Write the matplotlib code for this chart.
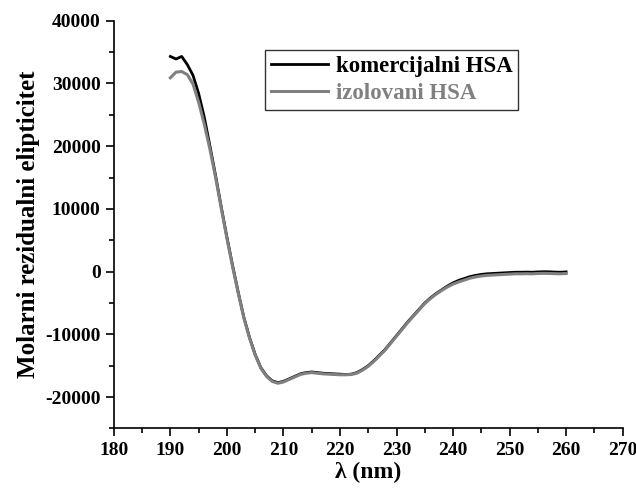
import matplotlib
matplotlib.use("Agg")
import matplotlib.pyplot as plt
from matplotlib.ticker import MultipleLocator

plt.rcParams['font.family'] = ['Liberation Serif', 'DejaVu Serif']
plt.rcParams['font.weight'] = 'bold'
plt.rcParams['axes.unicode_minus'] = False

wavelength = list(range(190, 261))
komercijalni = [
    34300, 33900, 34300, 33000, 31300, 28400, 24600, 20000, 15300, 10300,
    5500, 1000, -3300, -7300, -10500, -13200, -15300, -16600, -17400, -17700,
    -17500, -17100, -16700, -16300, -16100, -16000, -16100, -16200, -16250, -16300,
    -16350, -16400, -16350, -16100, -15600, -15000, -14200, -13300, -12400, -11300,
    -10200, -9100, -8000, -7000, -6000, -5000, -4200, -3500, -2900, -2300,
    -1800, -1400, -1100, -800, -600, -450, -350, -300, -250, -200,
    -150, -100, -100, -80, -100, -50, -20, -30, -80, -100,
    -50,
]
izolovani = [
    30900, 31800, 31900, 31400, 29900, 27000, 23500, 19500, 15000, 10100,
    5300, 800, -3400, -7400, -10600, -13300, -15400, -16700, -17500, -17800,
    -17600, -17200, -16800, -16400, -16200, -16100, -16200, -16300, -16350, -16400,
    -16450, -16450, -16400, -16200, -15700, -15100, -14300, -13400, -12500, -11400,
    -10300, -9200, -8100, -7100, -6100, -5100, -4300, -3600, -3000, -2450,
    -2000, -1650, -1350, -1050, -850, -700, -600, -550, -500, -450,
    -400, -350, -350, -330, -350, -300, -280, -290, -330, -350,
    -300,
]

fig = plt.figure(figsize=(6.36, 4.93), dpi=100)
ax = fig.add_axes([0.179, 0.131, 0.800, 0.827])

ax.plot(wavelength, komercijalni, color='black', lw=2.0, label='komercijalni HSA')
ax.plot(wavelength, izolovani, color='#808080', lw=2.2, label='izolovani HSA')

ax.set_xlim(180, 270)
ax.set_ylim(-25000, 40000)
ax.xaxis.set_major_locator(MultipleLocator(10))
ax.xaxis.set_minor_locator(MultipleLocator(5))
ax.yaxis.set_major_locator(MultipleLocator(10000))
ax.yaxis.set_minor_locator(MultipleLocator(5000))

for s in ['top', 'right']:
    ax.spines[s].set_visible(False)
for s in ['left', 'bottom']:
    ax.spines[s].set_linewidth(1.2)

ax.tick_params(which='major', direction='out', length=6, width=1.2, labelsize=14)
ax.tick_params(which='minor', direction='out', length=3.5, width=1.2)
for lab in ax.get_xticklabels() + ax.get_yticklabels():
    lab.set_fontweight('bold')

ax.set_xlabel('λ (nm)', fontsize=17, fontweight='bold', labelpad=2)
ax.set_ylabel('Molarni rezidualni elipticitet', fontsize=18, fontweight='bold', labelpad=4)

leg = ax.legend(loc='upper left', bbox_to_anchor=(0.297, 0.928), fontsize=16.5,
                frameon=True, fancybox=False, edgecolor='black', handlelength=2.5,
                borderpad=0.25, labelspacing=0.28, handletextpad=0.35, borderaxespad=0)
leg.get_frame().set_linewidth(1.0)
for txt, col in zip(leg.get_texts(), ['black', '#808080']):
    txt.set_color(col)
    txt.set_fontweight('bold')

fig.savefig('out.png', dpi=100)
